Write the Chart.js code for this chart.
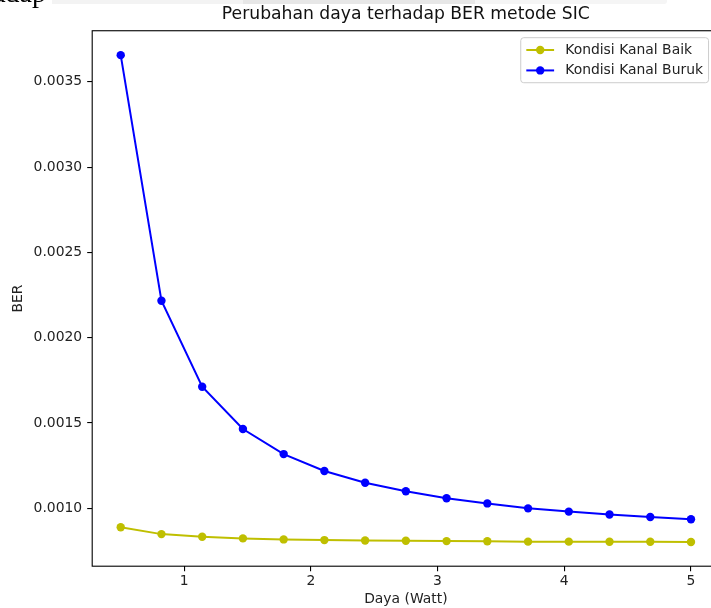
<!DOCTYPE html>
<html>
<head>
<meta charset="utf-8">
<script src="https://cdn.jsdelivr.net/npm/chart.js@4.4.1/dist/chart.umd.min.js"></script>
<style>
  html, body { margin: 0; padding: 0; background: #fff; overflow: hidden; }
  #view { position: relative; width: 711px; height: 608px; overflow: hidden; background: #fff; }
  #c { position: absolute; left: 0; top: 0; }
  .strip { position: absolute; top: 0; height: 4px; z-index: 2; }
  #doctext { position: absolute; left: 0; top: 0; width: 46px; height: 12px; overflow: hidden; z-index: 2; }
  #doctext span { position: absolute; right: 0; top: -21px; font: 28px/28px "Liberation Serif", serif; color: #000; white-space: nowrap; }
</style>
</head>
<body>
<div id="view">
  <canvas id="c" width="711" height="608" style="width:711px;height:608px;"></canvas>
  <div id="doctext"><span>terhadap</span></div>
  <div class="strip" style="left:52px;width:191px;background:#f3f3f3;"></div>
  <div class="strip" style="left:243px;width:232px;background:#e7e7e7;"></div>
  <div class="strip" style="left:475px;width:192px;background:#f5f5f5;border-radius:0 0 3px 0;"></div>
</div>
<script>
// ---- data ----
const daya = [0.5, 0.8214, 1.1429, 1.4643, 1.7857, 2.1071, 2.4286, 2.75, 3.0714, 3.3929, 3.7143, 4.0357, 4.3571, 4.6786, 5.0];
const berBaik = [0.000889, 0.000849, 0.000834, 0.000824, 0.000818, 0.000814, 0.000812, 0.000810, 0.000808, 0.000807, 0.000805, 0.000805, 0.000804, 0.000804, 0.000803];
const berBuruk = [0.003656, 0.002217, 0.001713, 0.001465, 0.001318, 0.001219, 0.001150, 0.001100, 0.001059, 0.001029, 0.001000, 0.000981, 0.000964, 0.000949, 0.000936];
const labelBaik = 'Kondisi Kanal Baik';
const labelBuruk = 'Kondisi Kanal Buruk';
const xTicks = [1, 2, 3, 4, 5];
const yTicks = [0.0010, 0.0015, 0.0020, 0.0025, 0.0030, 0.0035];
const xMin = 0.275, xMax = 5.225;
const yMin = 0.000661, yMax = 0.003799;
const titleText = 'Perubahan daya terhadap BER metode SIC';
const xTitle = 'Daya (Watt)';
const yTitle = 'BER';

const FONT = '"DejaVu Sans", sans-serif';
const FS = 13.9;
const PLOT_RIGHT = 719.5; // axes box continues past the cropped right edge

const toPoints = (xs, ys) => xs.map((x, i) => ({ x: x, y: ys[i] }));

// extend the plotting box beyond the visible canvas edge (the reference is cropped)
const extendRight = {
  id: 'extendRight',
  afterLayout(chart) {
    const a = chart.chartArea;
    a.right = PLOT_RIGHT;
    a.width = a.right - a.left;
    const xs = chart.scales.x;
    xs.right = PLOT_RIGHT;
    xs.width = xs.right - xs.left;
    xs.configure();
    xs._labelItems = null;
    xs._gridLineItems = null;
    if (chart.titleBlock) {
      chart.titleBlock.right = PLOT_RIGHT;
      chart.titleBlock.width = chart.titleBlock.right - chart.titleBlock.left;
    }
  }
};

const mplFrame = {
  id: 'mplFrame',
  afterDraw(chart) {
    const { ctx, chartArea: a } = chart;
    ctx.save();
    // spines
    ctx.strokeStyle = '#000';
    ctx.lineWidth = 1.1;
    ctx.strokeRect(a.left, a.top, a.right - a.left, a.bottom - a.top);
    // legend
    ctx.font = FS + 'px ' + FONT;
    const dss = chart.data.datasets;
    const tw = Math.max(...dss.map(d => ctx.measureText(d.label).width));
    const pad = 0.4 * FS, hl = 2 * FS, hp = 0.8 * FS, rowH = 0.97 * FS, sp = 0.5 * FS;
    const w = pad + hl + hp + tw + pad;
    const h = 2 * pad + dss.length * rowH + (dss.length - 1) * sp;
    const right = a.right - 0.5 * FS - 4;
    const top = a.top + 0.5 * FS;
    const left = right - w;
    ctx.beginPath();
    ctx.roundRect(left, top, w, h, 3);
    ctx.fillStyle = 'rgba(255,255,255,0.8)';
    ctx.fill();
    ctx.strokeStyle = '#cccccc';
    ctx.lineWidth = 1;
    ctx.stroke();
    dss.forEach((d, i) => {
      const cy = top + pad + rowH / 2 + i * (rowH + sp);
      ctx.strokeStyle = d.borderColor;
      ctx.lineWidth = 2;
      ctx.beginPath();
      ctx.moveTo(left + pad, cy);
      ctx.lineTo(left + pad + hl, cy);
      ctx.stroke();
      ctx.fillStyle = d.pointBackgroundColor;
      ctx.beginPath();
      ctx.arc(left + pad + hl / 2, cy, 4.2, 0, Math.PI * 2);
      ctx.fill();
      ctx.fillStyle = '#222';
      ctx.textBaseline = 'middle';
      ctx.textAlign = 'left';
      ctx.fillText(d.label, left + pad + hl + hp, cy);
    });
    ctx.restore();
  }
};

new Chart(document.getElementById('c'), {
  type: 'line',
  data: {
    datasets: [
      {
        label: labelBaik,
        data: toPoints(daya, berBaik),
        borderColor: '#bfbf00',
        backgroundColor: '#bfbf00',
        pointBackgroundColor: '#bfbf00',
        pointBorderWidth: 0,
        pointRadius: 4.2,
        borderWidth: 2,
        tension: 0,
        fill: false
      },
      {
        label: labelBuruk,
        data: toPoints(daya, berBuruk),
        borderColor: '#0000ff',
        backgroundColor: '#0000ff',
        pointBackgroundColor: '#0000ff',
        pointBorderWidth: 0,
        pointRadius: 4.2,
        borderWidth: 2,
        tension: 0,
        fill: false
      }
    ]
  },
  options: {
    responsive: false,
    animation: false,
    devicePixelRatio: 1,
    layout: { padding: { top: 0, left: 0, right: 0, bottom: 0 } },
    plugins: {
      legend: { display: false },
      tooltip: { enabled: false },
      title: {
        display: true,
        text: titleText,
        fullSize: false,
        color: '#111',
        font: { family: FONT, size: 17.2, weight: 'normal', lineHeight: 1.2 },
        padding: { top: 4.1, bottom: 6 }
      }
    },
    scales: {
      x: {
        type: 'linear',
        min: xMin,
        max: xMax,
        afterBuildTicks: s => { s.ticks = xTicks.map(v => ({ value: v })); },
        afterFit: s => { s.height = 41.8; },
        border: { display: false },
        grid: { display: true, drawOnChartArea: false, drawTicks: true, tickLength: 5, color: '#000', lineWidth: 1.1 },
        ticks: {
          color: '#222',
          font: { family: FONT, size: FS, lineHeight: 1.2 },
          padding: 2,
          maxRotation: 0,
          callback: v => String(v)
        },
        title: {
          display: true,
          text: xTitle,
          color: '#222',
          font: { family: FONT, size: FS, lineHeight: 1.2 },
          padding: { top: 0, bottom: 0 }
        }
      },
      y: {
        type: 'linear',
        min: yMin,
        max: yMax,
        afterBuildTicks: s => { s.ticks = yTicks.map(v => ({ value: v })); },
        afterFit: s => { s.width = 92.2; },
        border: { display: false },
        grid: { display: true, drawOnChartArea: false, drawTicks: true, tickLength: 5, color: '#000', lineWidth: 1.1 },
        ticks: {
          color: '#222',
          font: { family: FONT, size: FS, lineHeight: 1.2 },
          padding: 5,
          callback: v => Number(v).toFixed(4)
        },
        title: {
          display: true,
          text: yTitle,
          color: '#222',
          font: { family: FONT, size: FS, lineHeight: 1.2 },
          padding: { top: 9.7, bottom: 0 }
        }
      }
    }
  },
  plugins: [extendRight, mplFrame]
});
</script>
</body>
</html>
